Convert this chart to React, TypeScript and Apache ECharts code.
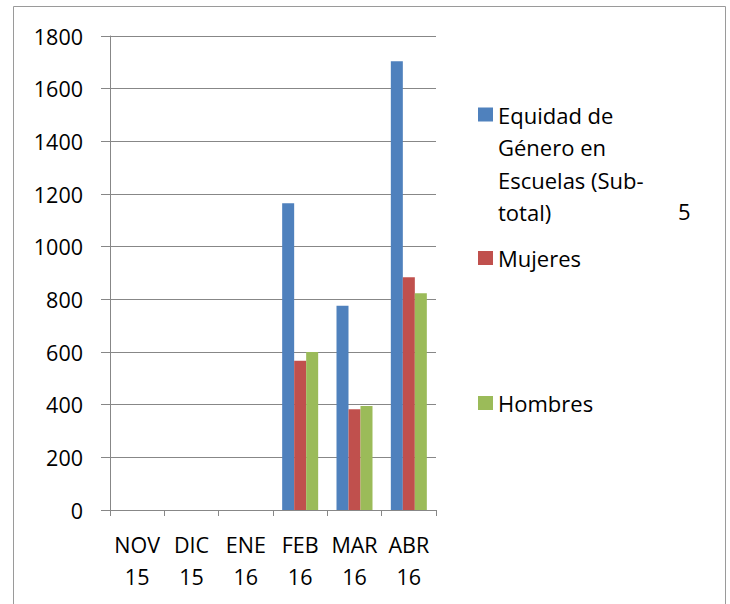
import React, { useEffect, useRef } from "react";
import * as echarts from "echarts";

const categories = ["NOV\n15", "DIC\n15", "ENE\n16", "FEB\n16", "MAR\n16", "ABR\n16"];
const seriesNames = ["Equidad de Género en Escuelas (Sub-total)", "Mujeres", "Hombres"];
const subtotalValues = [0, 0, 0, 1165, 776, 1704];
const mujeresValues = [0, 0, 0, 567, 383, 884];
const hombresValues = [0, 0, 0, 600, 395, 823];
const legendExtra = "5";

const COLORS = ["#4F81BD", "#C0504D", "#9BBB59"];
const FONT = "'Open Sans'";
const GRAY = "#878787";

export default function App() {
  const ref = useRef<HTMLDivElement>(null);
  useEffect(() => {
    document.body.style.margin = "0";
    const chart = echarts.init(ref.current!, null, { renderer: "svg" });
    const legendText = {
      fontFamily: FONT,
      fontSize: 22,
      color: "#000",
      lineHeight: 32.5,
    };
    const legendBase = {
      orient: "vertical" as const,
      left: 478,
      padding: 0,
      itemWidth: 15,
      itemHeight: 14,
      icon: "rect",
      textStyle: legendText,
      selectedMode: false,
    };
    chart.setOption({
      animation: false,
      backgroundColor: "#fff",
      grid: { left: 110, top: 36, width: 326, height: 474, containLabel: false },
      xAxis: {
        type: "category",
        data: categories,
        axisLine: { lineStyle: { color: GRAY, width: 1 } },
        axisTick: { show: true, length: 6, lineStyle: { color: GRAY } },
        axisLabel: {
          interval: 0,
          margin: 18,
          fontFamily: FONT,
          fontSize: 21.5,
          color: "#000",
          lineHeight: 32,
        },
      },
      yAxis: {
        type: "value",
        min: 0,
        max: 1800,
        interval: 200,
        axisLine: { show: true, lineStyle: { color: GRAY, width: 1 } },
        axisTick: { show: true, length: 9, lineStyle: { color: GRAY } },
        splitLine: { show: true, lineStyle: { color: GRAY, width: 1 } },
        axisLabel: {
          margin: 27,
          fontFamily: FONT,
          fontSize: 21.5,
          color: "#000",
          formatter: (v: number) => String(v),
        },
      },
      legend: [
        {
          ...legendBase,
          top: 0.75,
          data: [seriesNames[0]],
          formatter: () => "\n\n\nEquidad de\nGénero en\nEscuelas (Sub-\ntotal)",
        },
        { ...legendBase, top: 241.75, data: [seriesNames[1]] },
        { ...legendBase, top: 386.75, data: [seriesNames[2]] },
      ],
      graphic: [
        {
          type: "rect",
          shape: { x: 13.5, y: 6.5, width: 712, height: 660 },
          style: { fill: "none", stroke: "#9a9a9a", lineWidth: 1 },
          silent: true,
          z: -10,
        },
        {
          type: "text",
          left: 678,
          top: 200,
          style: { text: legendExtra, font: `22px ${FONT}`, fill: "#000" },
        },
      ],
      series: [
        { name: seriesNames[0], type: "bar", data: subtotalValues, barWidth: 12, barGap: "0%", itemStyle: { color: COLORS[0] } },
        { name: seriesNames[1], type: "bar", data: mujeresValues, barWidth: 12, barGap: "0%", itemStyle: { color: COLORS[1] } },
        { name: seriesNames[2], type: "bar", data: hombresValues, barWidth: 12, barGap: "0%", itemStyle: { color: COLORS[2] } },
      ],
    });
    return () => chart.dispose();
  }, []);
  return <div ref={ref} style={{ width: 730, height: 604 }} />;
}
